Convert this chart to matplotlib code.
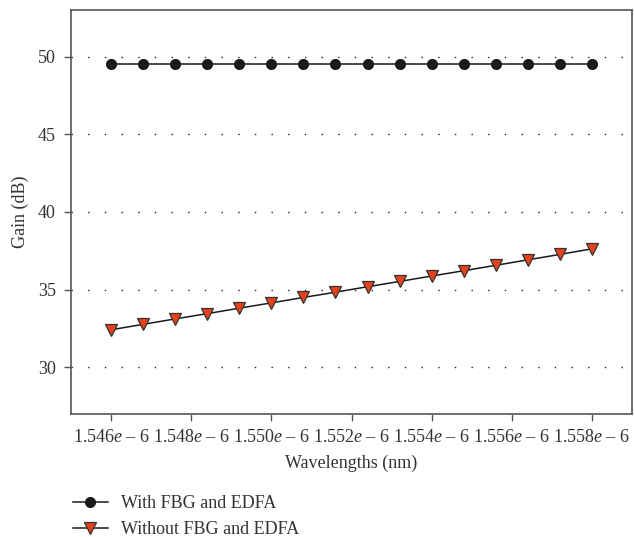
import matplotlib
matplotlib.use("Agg")
import matplotlib.pyplot as plt
from matplotlib.ticker import FuncFormatter, FixedLocator

plt.rcParams['font.family'] = ['Liberation Serif', 'DejaVu Serif']
plt.rcParams['mathtext.fontset'] = 'custom'
plt.rcParams['mathtext.it'] = 'Liberation Serif:italic'
plt.rcParams['mathtext.rm'] = 'Liberation Serif'

wavelengths = [1.5460, 1.5468, 1.5476, 1.5484, 1.5492, 1.5500, 1.5508, 1.5516,
               1.5524, 1.5532, 1.5540, 1.5548, 1.5556, 1.5564, 1.5572, 1.5580]
with_fbg = [49.5] * 16
without_fbg = [32.42, 32.77, 33.12, 33.46, 33.81, 34.15, 34.50, 34.84,
               35.19, 35.53, 35.88, 36.22, 36.57, 36.92, 37.27, 37.63]
xticks = [1.546, 1.548, 1.550, 1.552, 1.554, 1.556, 1.558]
yticks = [30, 35, 40, 45, 50]

fig = plt.figure(figsize=(6.34, 5.37), dpi=100)
ax = fig.add_axes([71/634, 1 - 414/537, (632-71)/634, (414-10)/537])

ax.plot(wavelengths, with_fbg, color='#1a1a1a', lw=1.1, marker='o', ms=7,
        mfc='#1a1a1a', mec='#1a1a1a', label='With FBG and EDFA', zorder=3)
ax.plot(wavelengths, without_fbg, color='#1a1a1a', lw=1.1, marker='v', ms=8,
        mfc='#E8401C', mec='#333333', mew=0.9, label='Without FBG and EDFA', zorder=3)

ax.set_xlim(1.545, 1.559)
ax.set_ylim(27, 53)
ax.xaxis.set_major_locator(FixedLocator(xticks))
ax.yaxis.set_major_locator(FixedLocator(yticks))
ax.xaxis.set_major_formatter(FuncFormatter(lambda v, p: f"{v:.3f}$e$ \u2013 6"))
ax.yaxis.set_major_formatter(FuncFormatter(lambda v, p: f"{int(v)}"))

ax.grid(axis='y', color='#222222', linestyle=(0, (1, 11)), lw=1.0)
ax.set_axisbelow(True)
for s in ax.spines.values():
    s.set_color('#555555')
    s.set_linewidth(1.2)
ax.tick_params(axis='both', direction='out', length=5, width=1.0, color='#555555',
               labelsize=13, labelcolor='#333333', pad=6)

ax.set_xlabel('Wavelengths (nm)', fontsize=13, color='#333333', labelpad=6)
ax.set_ylabel('Gain (dB)', fontsize=13, color='#333333', labelpad=6)

fig.legend(handles=ax.get_lines(), loc='upper left', bbox_to_anchor=(62/634, 1 - 484/537),
           frameon=False, fontsize=13, handlelength=1.95, handletextpad=0.7,
           labelspacing=0.5, labelcolor='#333333', borderaxespad=0.2)

fig.savefig('out.png', dpi=100)
